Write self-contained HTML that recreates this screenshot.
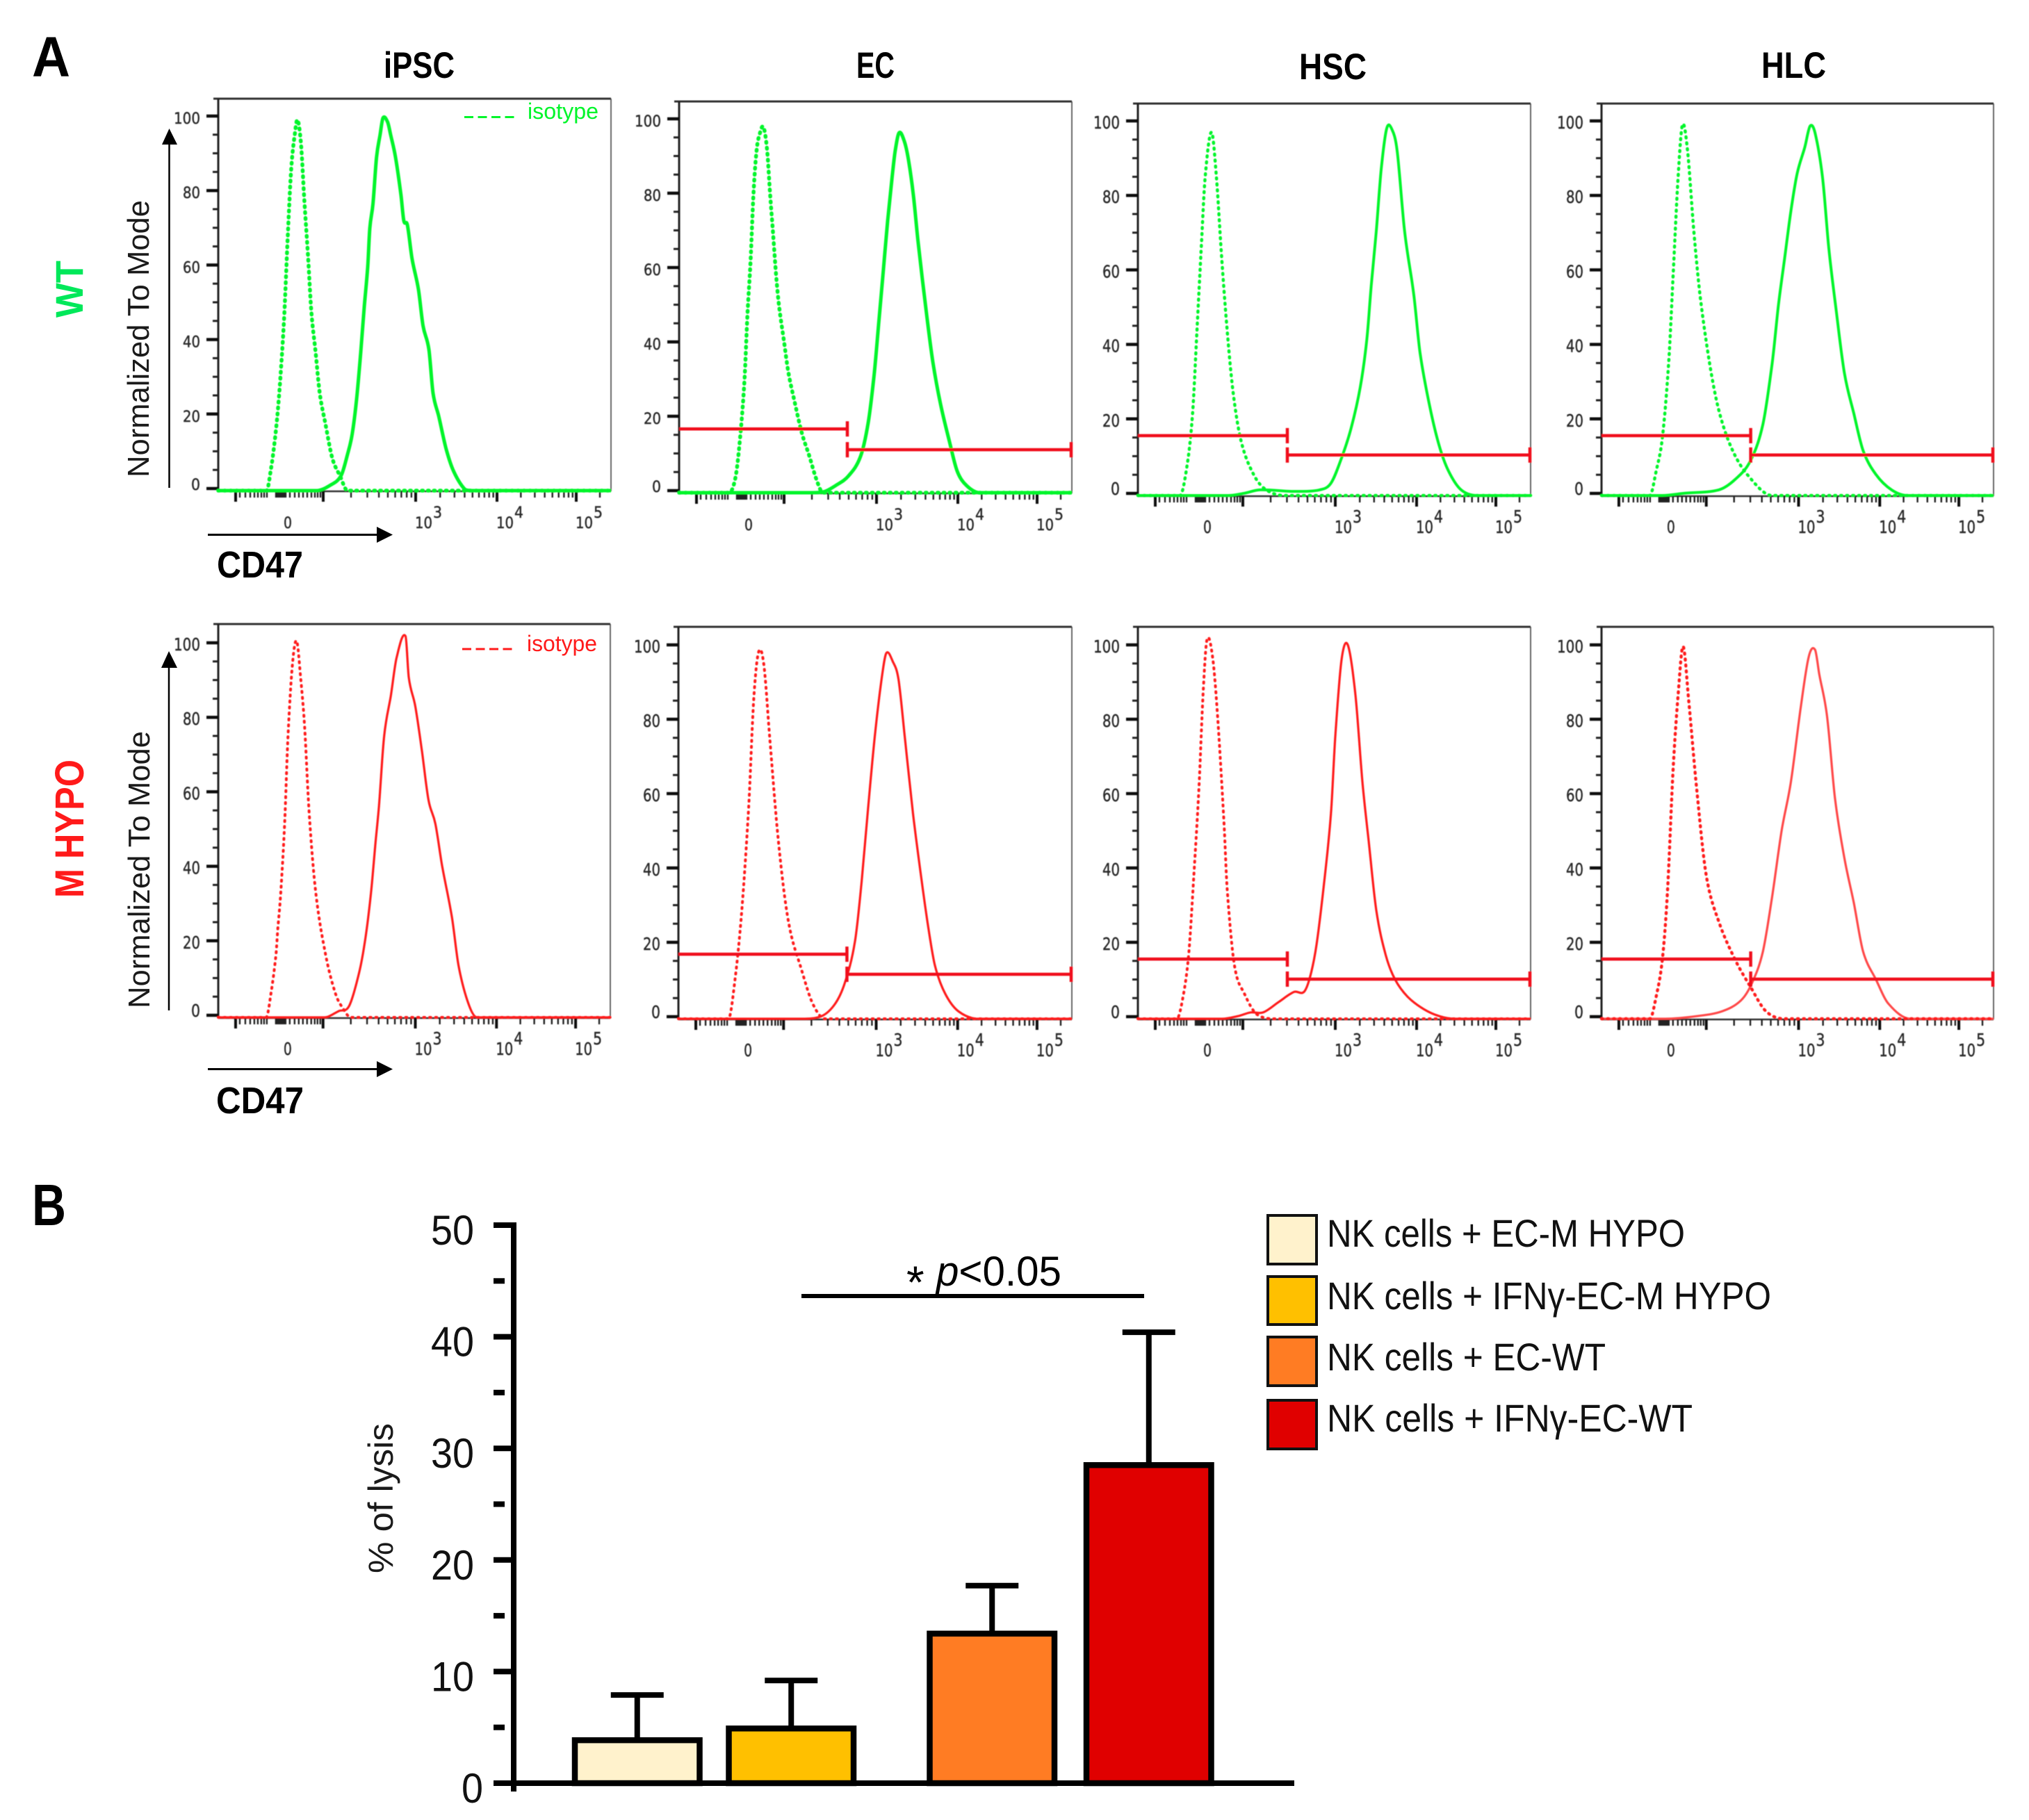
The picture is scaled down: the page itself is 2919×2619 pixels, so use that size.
<!DOCTYPE html>
<html lang="en">
<head>
<meta charset="utf-8">
<title>CD47 flow cytometry histograms and NK cell lysis bar chart</title>
<style>
html,body{margin:0;padding:0;background:#fff;}
svg{display:block;}
text{font-family:"Liberation Sans",sans-serif;}
.tick-label{font-family:"DejaVu Sans",sans-serif;fill:#2a2a2a;stroke:#2a2a2a;stroke-width:0.45px;}
</style>
</head>
<body>
<svg id="figure" xmlns="http://www.w3.org/2000/svg" width="2919" height="2619" viewBox="0 0 2919 2619">
<defs>
  <filter id="soft" x="-2%" y="-2%" width="104%" height="104%"><feGaussianBlur stdDeviation="0.6"/></filter>
</defs>
<rect width="2919" height="2619" fill="#fff"/>

<text x="46" y="110" font-size="82" font-weight="bold" textLength="55" lengthAdjust="spacingAndGlyphs">A</text>
<text x="46" y="1763" font-size="84" font-weight="bold" textLength="49" lengthAdjust="spacingAndGlyphs">B</text>

<text x="552" y="112" font-size="53" font-weight="bold" textLength="102" lengthAdjust="spacingAndGlyphs">iPSC</text>
<text x="1232" y="112" font-size="53" font-weight="bold" textLength="55" lengthAdjust="spacingAndGlyphs">EC</text>
<text x="1869" y="114" font-size="53" font-weight="bold" textLength="97" lengthAdjust="spacingAndGlyphs">HSC</text>
<text x="2534" y="112" font-size="53" font-weight="bold" textLength="93" lengthAdjust="spacingAndGlyphs">HLC</text>

<text transform="translate(119,457) rotate(-90)" font-size="56" font-weight="bold" fill="#00e85a" textLength="82" lengthAdjust="spacingAndGlyphs">WT</text>
<text transform="translate(120,1292) rotate(-90)" font-size="58" font-weight="bold" fill="#ff1a1a" textLength="199" lengthAdjust="spacingAndGlyphs">M HYPO</text>

<text transform="translate(214,687) rotate(-90)" font-size="44" fill="#1a1a1a" textLength="399" lengthAdjust="spacingAndGlyphs">Normalized To Mode</text>
<text transform="translate(215,1451) rotate(-90)" font-size="44" fill="#1a1a1a" textLength="399" lengthAdjust="spacingAndGlyphs">Normalized To Mode</text>

<g>
  <line x1="243.5" y1="702" x2="243.5" y2="205" stroke="#000" stroke-width="2.5"/>
  <polygon points="243.5,185 233,208 255,208" fill="#000"/>
</g>
<g>
  <line x1="299" y1="769.5" x2="545" y2="769.5" stroke="#000" stroke-width="3"/>
  <polygon points="565,769.5 542,758 542,781" fill="#000"/>
</g>
<g>
  <line x1="243" y1="1454" x2="243" y2="958" stroke="#000" stroke-width="2.5"/>
  <polygon points="243,937 232,961 255,961" fill="#000"/>
</g>
<g>
  <line x1="299" y1="1538.5" x2="545" y2="1538.5" stroke="#000" stroke-width="3"/>
  <polygon points="565,1538.5 542,1527 542,1550" fill="#000"/>
</g>

<text x="312" y="831" font-size="54" font-weight="bold" textLength="124" lengthAdjust="spacingAndGlyphs">CD47</text>
<text x="311" y="1602" font-size="54" font-weight="bold" textLength="126" lengthAdjust="spacingAndGlyphs">CD47</text>

<g id="panels" filter="url(#soft)"></g>

<g>
  <line x1="668" y1="168.5" x2="740" y2="168.5" stroke="#00f52a" stroke-width="3" stroke-dasharray="13 6.5"/>
  <text x="759" y="171" font-size="32" fill="#00f52a" textLength="102" lengthAdjust="spacingAndGlyphs">isotype</text>
</g>
<g>
  <line x1="665" y1="934" x2="739" y2="934" stroke="#ff1a1a" stroke-width="3" stroke-dasharray="13 6.5"/>
  <text x="758" y="937" font-size="32" fill="#ff1a1a" textLength="101" lengthAdjust="spacingAndGlyphs">isotype</text>
</g>

<g id="barchart"></g>

<text transform="translate(565,2264) rotate(-90)" font-size="50" fill="#1a1a1a" textLength="216" lengthAdjust="spacingAndGlyphs">% of lysis</text>

<g>
  <line x1="1153" y1="1865" x2="1646" y2="1865" stroke="#000" stroke-width="6"/>
  <text x="1304" y="1868" font-size="66">*</text>
  <text x="1347" y="1850" font-size="60" textLength="180" lengthAdjust="spacingAndGlyphs"><tspan font-style="italic">p</tspan>&lt;0.05</text>
</g>

<g>
  <rect x="1824" y="1749" width="70" height="70" fill="#fff2cc" stroke="#111" stroke-width="4"/>
  <text x="1909" y="1794" font-size="56" fill="#111" textLength="515" lengthAdjust="spacingAndGlyphs">NK cells + EC-M HYPO</text>
  <rect x="1824" y="1837" width="70" height="69" fill="#ffc000" stroke="#111" stroke-width="4"/>
  <text x="1909" y="1884" font-size="56" fill="#111" textLength="639" lengthAdjust="spacingAndGlyphs">NK cells + IFNγ-EC-M HYPO</text>
  <rect x="1824" y="1924" width="70" height="70" fill="#ff7c23" stroke="#111" stroke-width="4"/>
  <text x="1909" y="1972" font-size="56" fill="#111" textLength="401" lengthAdjust="spacingAndGlyphs">NK cells + EC-WT</text>
  <rect x="1824" y="2015" width="70" height="70" fill="#e00000" stroke="#111" stroke-width="4"/>
  <text x="1909" y="2060" font-size="56" fill="#111" textLength="526" lengthAdjust="spacingAndGlyphs">NK cells + IFNγ-EC-WT</text>
</g>
</svg>

<script>
// ---- Histogram axes ----
const yTickValues = [0, 20, 40, 60, 80, 100];
const yMinorValues = [5, 10, 15, 25, 30, 35, 45, 50, 55, 65, 70, 75, 85, 90, 95];
const xMajorChannels = [25, 151, 284, 401, 515];
const xNegativeMinorChannels = [31, 39, 46, 52, 57, 62, 66, 70, 83, 85, 87, 89, 91, 93, 95, 97, 103, 110, 116, 122, 128, 134, 139, 143, 147];
const xExtraChannels = [549];
const xLogFactors = [2, 3, 4, 5, 6, 7, 8, 9];
const xDecadeLabels = ['3', '4', '5'];
const xDecadeChannels = [284, 401, 515];
const xZeroChannel = 100;

// ---- Histogram series: channel (x) and normalized-to-mode (y) ----
const wtIpscIsoX = [0, 69.5, 76, 81, 86, 90.6, 95, 100, 105, 110, 114, 119, 124, 129, 134, 140, 146, 154, 164, 175, 186, 565];
const wtIpscIsoY = [0, 0, 6, 12.9, 22, 33.5, 47, 68, 86, 95, 99, 92.6, 77, 63, 47.6, 37, 26, 18, 8.7, 4, 0, 0];
const wtIpscMainX = [0, 141.6, 160.7, 176.7, 186, 192.6, 199, 205, 210, 215, 218, 222.6, 227.7, 232.8, 237, 243.6, 248, 255, 262.8, 267, 272, 278.7, 288, 294.6, 303, 309, 317, 328, 339, 355, 365, 565];
const wtIpscMainY = [0, 0, 1.4, 4, 9.7, 15, 24.4, 37, 49, 59.7, 70, 76.6, 89, 95, 99.5, 98.4, 95, 89, 79, 72, 71, 62, 53.7, 44, 37.7, 26, 20, 11, 5, 0.3, 0, 0];

const wtEcIsoX = [0, 72, 81, 87.6, 94, 98.4, 102.8, 107, 111.5, 116, 121.4, 126.6, 131, 135.3, 139.6, 144, 150.5, 157, 165.7, 176.5, 187, 198, 207, 565];
const wtEcIsoY = [0, 0, 4, 14.4, 30, 48, 62, 80, 91.6, 96, 97.8, 91.6, 79.6, 69, 58, 49.6, 41, 32.4, 24.7, 16, 10, 3.3, 0, 0];
const wtEcMainX = [0, 191.7, 209, 226, 243.7, 261, 272, 280.6, 287, 293.6, 300, 306.6, 311, 316.6, 324, 330, 337, 343.5, 350, 356.5, 365, 376, 389, 400, 413, 432, 565];
const wtEcMainY = [0, 0, 0.3, 2, 4.5, 9.7, 18.7, 31.6, 45, 59, 72.7, 84.7, 91.6, 96.3, 94, 89, 79.6, 67.6, 57, 47, 35, 23.8, 13.6, 5.8, 2, 0, 0];

const wtHscIsoX = [0, 60.6, 71, 78.7, 85, 91.4, 96.8, 105.9, 113, 120, 127.6, 136.7, 148.4, 166.5, 184.6, 211.8, 565];
const wtHscIsoY = [0, 0, 8.3, 21.9, 44, 67, 85, 97, 85, 65, 46, 28, 14.6, 5.6, 1.5, 0, 0];
const wtHscMainX = [0, 130, 153, 175.6, 225, 261.5, 277.8, 293, 306.8, 320, 329.4, 335.7, 343, 350, 358, 365.6, 373, 383.7, 397, 406, 420, 433.5, 447, 465, 488, 565];
const wtHscMainY = [0, 0, 0.6, 1.5, 1.1, 1.5, 3.3, 10, 18, 29, 41.7, 56, 70.6, 87, 98, 97.7, 92, 70.6, 53.5, 38, 23.7, 13.3, 6.5, 1.5, 0, 0];

const wtHlcIsoX = [0, 69.7, 78.7, 87.8, 96.8, 103, 110.4, 116.7, 124, 133, 142, 155.7, 169, 187, 210, 246, 565];
const wtHlcIsoY = [0, 0, 6.5, 15.5, 35.4, 58, 85, 99, 92, 70.6, 53.5, 35.4, 22.8, 12.8, 5.6, 0, 0];
const wtHlcMainX = [0, 87.8, 119.5, 169, 192, 214.5, 232.6, 246, 255, 264, 273, 282, 293, 300.5, 307.7, 318.5, 327.6, 338.5, 350, 363.6, 377, 395.5, 418, 441, 565];
const wtHlcMainY = [0, 0, 0.6, 1.5, 4.2, 9.2, 19, 35.4, 50.8, 63.4, 76, 86, 93, 98.6, 96.8, 85, 66, 49, 32.7, 21.9, 12, 5.6, 1.5, 0, 0];

const hypoIpscIsoX = [0, 69, 76.6, 83, 86, 90, 95.7, 100.5, 107, 113, 118.7, 124.4, 131, 140.7, 155, 169, 179, 191, 565];
const hypoIpscIsoY = [0, 0, 7.2, 16.5, 24, 33, 51.8, 75, 94.4, 100.5, 90.7, 77.7, 54.5, 33, 16.5, 6.3, 2.6, 0, 0];
const hypoIpscMainX = [0, 153, 174, 188.5, 203, 212, 220, 226.8, 231.6, 239, 248.8, 257, 269.9, 274.6, 284, 293.6, 303, 312.8, 322.5, 336.8, 346.4, 360.8, 373, 565];
const hypoIpscMainY = [0, 0, 1.7, 3, 11.9, 21, 33, 47, 56.4, 75, 86, 96, 101.8, 90.7, 83, 71, 58, 51.8, 40.6, 26.7, 13.7, 3.5, 0, 0];

const hypoEcIsoX = [0, 71.8, 81.3, 91, 101, 108, 115, 122.5, 131, 143.5, 158, 177, 193, 210.5, 565];
const hypoEcIsoY = [0, 0, 10.5, 29, 57, 85, 98, 95, 75.5, 47.6, 26, 13, 4, 0, 0];
const hypoEcMainX = [0, 177, 205.7, 225, 239, 253.6, 263, 272.7, 282, 291.9, 298.6, 308, 316, 325, 336.8, 349, 358.9, 368.4, 382.8, 402, 430.6, 565];
const hypoEcMainY = [0, 0, 0.7, 4, 9.6, 20.7, 36.5, 57, 75.5, 91, 97.8, 95.5, 90.8, 75.5, 55, 37.4, 24.4, 14.2, 6.8, 2, 0, 0];

const hypoHscIsoX = [0, 56, 64, 73, 80.5, 87.8, 94, 99.5, 107.7, 115, 124, 128.5, 139, 153, 171, 198, 565];
const hypoHscIsoY = [0, 0, 4.9, 17, 38.3, 61.6, 87.6, 101.5, 96.4, 80, 52, 34.6, 14.2, 6.8, 1.2, 0, 0];
const hypoHscMainX = [0, 121, 144, 162, 180, 202.7, 225, 239, 248, 257, 268, 277.8, 284, 293, 302, 313, 323, 332, 343, 356.6, 370, 388, 411, 433.5, 456, 565];
const hypoHscMainY = [0, 0, 0.7, 1.7, 1.7, 4.5, 7.2, 7.2, 11.4, 19.8, 36.5, 55, 75.5, 96, 100, 86.6, 63.4, 47.6, 29, 17, 10.5, 5.9, 2.6, 0.7, 0, 0];

const hypoHlcIsoX = [0, 69.7, 78.7, 87.8, 95, 103, 110.4, 117.6, 125.8, 137.6, 151, 169, 192, 214.5, 237, 264, 565];
const hypoHlcIsoY = [0, 0, 5.9, 16, 33.7, 66, 86.6, 99.6, 84.8, 60.6, 38.3, 26, 16, 8.6, 2, 0, 0];
const hypoHlcMainX = [0, 92, 137.6, 173.8, 201, 217, 232.6, 246, 259.7, 273, 286.9, 298.6, 307.7, 314, 325, 336.6, 350, 363.6, 377, 395.5, 413.6, 445, 565];
const hypoHlcMainY = [0, 0, 0.7, 2, 4.9, 9.6, 18, 32.8, 50.4, 63.4, 83, 96.8, 98.7, 92, 81, 58.8, 43, 31, 18, 10.5, 4, 0, 0];

// ---- Gate levels: channel, low-gate height, high-gate height ----
const gateChannels = [242, 215, 215, 242, 215, 215];
const gateLowHeights = [16.6, 15.5, 15.5, 16.8, 15.5, 15.5];
const gateHighHeights = [11, 10.3, 10.3, 11.4, 10.1, 10.1];

// ---- Bar chart ----
const barCategories = ['ec-m-hypo', 'ifn-ec-m-hypo', 'ec-wt', 'ifn-ec-wt'];
const barMeans = [3.85, 4.9, 13.4, 28.5];
const barUppers = [7.9, 9.2, 17.7, 40.4];
const barAxisMajor = [0, 10, 20, 30, 40, 50];
const barAxisMinor = [5, 15, 25, 35, 45];

const SVGNS = 'http://www.w3.org/2000/svg';
function make(tag, parent, attrs) {
  const node = document.createElementNS(SVGNS, tag);
  Object.keys(attrs).forEach(function (k) { node.setAttribute(k, attrs[k]); });
  parent.appendChild(node);
  return node;
}

// Hermite curve through the points with non-uniform tangents; flat at the baseline.
function smoothPath(xs, ys, baseY) {
  const n = xs.length;
  const slope = xs.map(function (x, i) {
    if (i === 0 || i === n - 1) return 0;
    if (ys[i] >= baseY - 0.01) return 0;
    return (ys[i + 1] - ys[i - 1]) / (xs[i + 1] - xs[i - 1]);
  });
  let d = 'M' + xs[0].toFixed(1) + ' ' + ys[0].toFixed(1);
  for (let i = 0; i < n - 1; i++) {
    const h = xs[i + 1] - xs[i];
    const c1x = xs[i] + h / 3;
    const c1y = Math.min(baseY, ys[i] + slope[i] * h / 3);
    const c2x = xs[i + 1] - h / 3;
    const c2y = Math.min(baseY, ys[i + 1] - slope[i + 1] * h / 3);
    d += 'C' + c1x.toFixed(1) + ' ' + c1y.toFixed(1) + ' ' + c2x.toFixed(1) + ' ' + c2y.toFixed(1) + ' ' + xs[i + 1].toFixed(1) + ' ' + ys[i + 1].toFixed(1);
  }
  return d;
}

const layouts = [
  {id:'wt-ipsc', L:314, R:879, T:142, y100:167, y0:703, color:'#00f52a', w:5, iw:5.5, isoX:wtIpscIsoX, isoY:wtIpscIsoY, mainX:wtIpscMainX, mainY:wtIpscMainY, gate:-1, fs:22},
  {id:'wt-ec', L:977, R:1542, T:146, y100:171, y0:706, color:'#00f52a', w:5, iw:5.5, isoX:wtEcIsoX, isoY:wtEcIsoY, mainX:wtEcMainX, mainY:wtEcMainY, gate:0, fs:22},
  {id:'wt-hsc', L:1637, R:2202, T:149, y100:174, y0:710, color:'#00f52a', w:4, iw:4.5, isoX:wtHscIsoX, isoY:wtHscIsoY, mainX:wtHscMainX, mainY:wtHscMainY, gate:1, fs:25},
  {id:'wt-hlc', L:2304, R:2868, T:149, y100:174, y0:710, color:'#00f52a', w:4, iw:4.5, isoX:wtHlcIsoX, isoY:wtHlcIsoY, mainX:wtHlcMainX, mainY:wtHlcMainY, gate:2, fs:25},
  {id:'hypo-ipsc', L:314, R:878, T:898, y100:925, y0:1461, color:'#ff1a1a', w:3.2, iw:4, isoX:hypoIpscIsoX, isoY:hypoIpscIsoY, mainX:hypoIpscMainX, mainY:hypoIpscMainY, gate:-1, fs:25},
  {id:'hypo-ec', L:976, R:1542, T:902, y100:928, y0:1463, color:'#ff1a1a', w:3.2, iw:4, isoX:hypoEcIsoX, isoY:hypoEcIsoY, mainX:hypoEcMainX, mainY:hypoEcMainY, gate:3, fs:25},
  {id:'hypo-hsc', L:1637, R:2202, T:902, y100:928, y0:1463, color:'#ff1a1a', w:3.2, iw:4, isoX:hypoHscIsoX, isoY:hypoHscIsoY, mainX:hypoHscMainX, mainY:hypoHscMainY, gate:4, fs:25},
  {id:'hypo-hlc', L:2304, R:2868, T:902, y100:928, y0:1463, color:'#ff4a4a', w:3.2, iw:4.4, isoX:hypoHlcIsoX, isoY:hypoHlcIsoY, mainX:hypoHlcMainX, mainY:hypoHlcMainY, gate:5, fs:25}
];

function xTicksMinor() {
  const out = xNegativeMinorChannels.slice();
  for (let d = 1; d < xMajorChannels.length - 1; d++) {
    const a = xMajorChannels[d], b = xMajorChannels[d + 1];
    xLogFactors.forEach(function (k) { out.push(a + (b - a) * Math.log10(k)); });
  }
  return out.concat(xExtraChannels);
}

const panelsRoot = document.getElementById('panels');
layouts.forEach(function (p) {
  const g = make('g', panelsRoot, {});
  
  
  const B = p.y0 + 3;
  const xScale = function (c) { return p.L + c * (p.R - p.L) / 565; };
  const yTick = function (v) { return p.y0 + (p.y100 - p.y0) * v / 100; };
  const yCurve = function (v) { return B + (p.y100 - B) * v / 100; };

  // frame
  const top = make('line', g, {x1:p.L - 7, y1:p.T, x2:p.R, y2:p.T, stroke:'#333', 'stroke-width':3});
  
  
  const right = make('line', g, {x1:p.R, y1:p.T, x2:p.R, y2:B + 1, stroke:'#444', 'stroke-width':1.6});
  
  
  const left = make('line', g, {x1:p.L, y1:p.T, x2:p.L, y2:B + 1, stroke:'#222', 'stroke-width':3});
  
  
  const bottom = make('line', g, {x1:p.L, y1:B + 1, x2:p.R, y2:B + 1, stroke:'#333', 'stroke-width':2.5});
  
  

  // y ticks
  yTickValues.forEach(function (v) {
    const y = yTick(v);
    const t = make('line', g, {x1:p.L - 17, y1:y, x2:p.L, y2:y, stroke:'#111', 'stroke-width':4.5});
    
    
    const s = String(v);
    const len = s.length === 3 ? 38 : (s.length === 2 ? 25 : 13);
    const lab = make('text', g, {x:p.L - 26 - len, y:v === 0 ? y + 2 : y + 11, 'font-size':p.fs, textLength:len, lengthAdjust:'spacingAndGlyphs', 'class':'tick-label'});
    lab.textContent = s;
    
    
  });
  yMinorValues.forEach(function (v) {
    const y = yTick(v);
    const t = make('line', g, {x1:p.L - 8, y1:y, x2:p.L, y2:y, stroke:'#222', 'stroke-width':3});
    
    
  });

  // x ticks
  xMajorChannels.forEach(function (c) {
    const x = xScale(c);
    const t = make('line', g, {x1:x, y1:B + 1, x2:x, y2:B + 16, stroke:'#111', 'stroke-width':4});
    
    
  });
  xTicksMinor().forEach(function (c) {
    const x = xScale(c);
    const t = make('line', g, {x1:x, y1:B + 1, x2:x, y2:B + 10, stroke:'#222', 'stroke-width':2.4});
    
    
  });
  const zero = make('text', g, {x:xScale(xZeroChannel) - 6, y:p.y0 + 57, 'font-size':p.fs, textLength:12, lengthAdjust:'spacingAndGlyphs', 'class':'tick-label'});
  zero.textContent = '0';
  
  
  xDecadeChannels.forEach(function (c, i) {
    const x = xScale(c);
    const ten = make('text', g, {x:x - 1, y:p.y0 + 57, 'font-size':p.fs, textLength:25, lengthAdjust:'spacingAndGlyphs', 'class':'tick-label'});
    ten.textContent = '10';
    
    
    const sup = make('text', g, {x:x + 25, y:p.y0 + 42, 'font-size':p.fs, textLength:13, lengthAdjust:'spacingAndGlyphs', 'class':'tick-label'});
    sup.textContent = xDecadeLabels[i];
    
    
  });

  // series
  const main = make('path', g, {d:smoothPath(p.mainX.map(xScale), p.mainY.map(yCurve), B), fill:'none', stroke:p.color, 'stroke-width':p.w, 'stroke-linejoin':'round'});
  
  
  const iso = make('path', g, {d:smoothPath(p.isoX.map(xScale), p.isoY.map(yCurve), B), fill:'none', stroke:p.id.indexOf('wt') === 0 ? p.color : '#ff1a1a', 'stroke-width':p.iw, 'stroke-dasharray':'1.6 7', 'stroke-linecap':'round', 'stroke-linejoin':'round'});
  
  

  // gates
  if (p.gate >= 0) {
    const gx = xScale(gateChannels[p.gate]);
    const yLow = yTick(gateLowHeights[p.gate]);
    const yHigh = yTick(gateHighHeights[p.gate]);
    const segs = [
      ['gate-negative-bar', p.L, yLow, gx, yLow],
      ['gate-negative-cap', gx, yLow - 11, gx, yLow + 11],
      ['gate-positive-bar', gx, yHigh, p.R, yHigh],
      ['gate-positive-cap-left', gx, yHigh - 11, gx, yHigh + 11],
      ['gate-positive-cap-right', p.R - 1, yHigh - 11, p.R - 1, yHigh + 11]
    ];
    segs.forEach(function (s) {
      const ln = make('line', g, {x1:s[1], y1:s[2], x2:s[3], y2:s[4], stroke:'#f0101a', 'stroke-width':4.5});
      
      
    });
  }
});

// ---- Bar chart drawing ----
const chart = document.getElementById('barchart');
const barY0 = 2566, barY50 = 1763, axisX = 739;
const barValueY = function (v) { return barY0 + (barY50 - barY0) * v / 50; };
const barLefts = [827, 1048.5, 1337.5, 1563];
const barWidth = 179.5;
const barColors = ['#fff2cc', '#ffc000', '#ff7c23', '#e00000'];

barCategories.forEach(function (name, i) {
  const cx = barLefts[i] + barWidth / 2;
  const errLine = make('line', chart, {x1:cx, y1:barValueY(barMeans[i]), x2:cx, y2:barValueY(barUppers[i]), stroke:'#000', 'stroke-width':8});
  
  
  const cap = make('line', chart, {x1:cx - 38, y1:barValueY(barUppers[i]), x2:cx + 38, y2:barValueY(barUppers[i]), stroke:'#000', 'stroke-width':8});
  
  
  const bar = make('rect', chart, {x:barLefts[i], y:barValueY(barMeans[i]), width:barWidth, height:barY0 - barValueY(barMeans[i]), fill:barColors[i], stroke:'#000', 'stroke-width':8.5});
  
  
});

const yAxisBar = make('line', chart, {x1:axisX, y1:barY50 - 4, x2:axisX, y2:barY0 + 12, stroke:'#000', 'stroke-width':8});


const xAxisBar = make('line', chart, {x1:710, y1:barY0, x2:1862, y2:barY0, stroke:'#000', 'stroke-width':8});



barAxisMajor.forEach(function (v) {
  const y = barValueY(v);
  const t = make('line', chart, {x1:710, y1:y, x2:axisX, y2:y, stroke:'#000', 'stroke-width':8});
  
  
  const s = String(v);
  const lab = make('text', chart, {x:v === 0 ? 664 : 620, y:y + 28, 'font-size':60, fill:'#111', textLength:v === 0 ? 31 : 62, lengthAdjust:'spacingAndGlyphs'});
  lab.textContent = s;
  
  
});
barAxisMinor.forEach(function (v) {
  const y = barValueY(v);
  const t = make('line', chart, {x1:710, y1:y, x2:726, y2:y, stroke:'#000', 'stroke-width':8});
  
  
});
</script>
</body>
</html>
